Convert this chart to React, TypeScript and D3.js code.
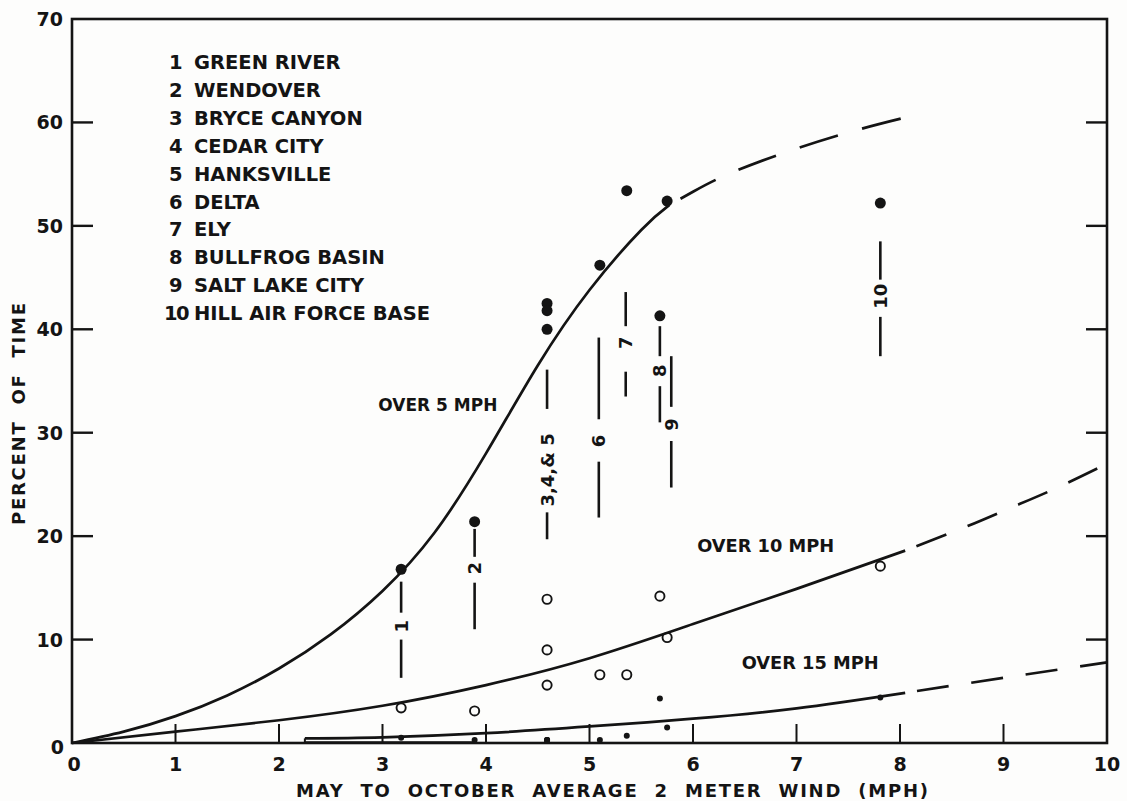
import React from "react";
import * as d3 from "d3";

// ---------- data ----------
const stationIds = ["1", "2", "3", "4", "5", "6", "7", "8", "9", "10"];
const stationNames = [
  "GREEN RIVER",
  "WENDOVER",
  "BRYCE CANYON",
  "CEDAR CITY",
  "HANKSVILLE",
  "DELTA",
  "ELY",
  "BULLFROG BASIN",
  "SALT LAKE CITY",
  "HILL AIR FORCE BASE",
];
// May-October average 2 m wind (mph) per station
const stationWind = [3.18, 3.89, 4.59, 4.59, 4.59, 5.1, 5.36, 5.68, 5.75, 7.81];
// percent of time over 5 / 10 / 15 mph
const over5Pct = [16.8, 21.4, 42.5, 41.8, 40.0, 46.2, 53.4, 41.3, 52.4, 52.2];
const over10Pct = [3.4, 3.1, 13.9, 9.0, 5.6, 6.6, 6.6, 14.2, 10.2, 17.1];
const over15Pct = [0.5, 0.3, 0.3, 0.3, 0.3, 0.3, 0.7, 4.3, 1.5, 4.4];

// fitted curves (solid part, then dashed extrapolation)
const curve5X = [0, 0.5, 1.0, 1.5, 2.0, 2.5, 3.0, 3.5, 4.0, 4.5, 5.0, 5.5, 5.77];
const curve5Y = [0, 1.1, 2.6, 4.6, 7.2, 10.5, 14.7, 20.3, 28.0, 36.5, 43.8, 49.6, 52.0];
const curve5DashX = [5.77, 6.0, 6.34, 6.92, 7.56, 8.06];
const curve5DashY = [52.0, 53.3, 55.0, 57.2, 59.2, 60.5];

const curve10X = [0, 1, 2, 3, 4, 5, 6, 7, 8.05];
const curve10Y = [0, 1.1, 2.2, 3.6, 5.6, 8.2, 11.5, 14.9, 18.6];
const curve10DashX = [8.05, 8.66, 9.06, 9.5, 10];
const curve10DashY = [18.6, 21.0, 22.7, 24.6, 27.0];

const curve15X = [2.25, 3.0, 4.0, 5.0, 6.0, 7.0, 8.05];
const curve15Y = [0.45, 0.55, 0.95, 1.6, 2.35, 3.35, 4.85];
const curve15DashX = [8.05, 9.0, 10];
const curve15DashY = [4.85, 6.3, 7.8];

// station leader annotations (label text, wind, upper line, label centre, lower line)
const leaderLabels = ["1", "2", "3,4,& 5", "6", "7", "8", "9", "10"];
const leaderWind = [3.18, 3.89, 4.59, 5.09, 5.35, 5.68, 5.79, 7.81];
const leaderUpperTop = [15.6, 20.7, 36.1, 39.2, 43.6, 40.3, 37.4, 48.5];
const leaderUpperBottom = [12.6, 18.0, 32.3, 31.3, 40.3, 37.4, 32.5, 44.8];
const leaderLabelAt = [11.3, 16.9, 26.4, 29.2, 38.7, 36.0, 30.8, 43.2];
const leaderLowerTop = [10.0, 15.5, 22.3, 27.2, 35.9, 34.5, 29.2, 41.2];
const leaderLowerBottom = [6.3, 11.0, 19.7, 21.8, 33.5, 31.0, 24.7, 37.4];

const curveLabels = ["OVER 5 MPH", "OVER 10 MPH", "OVER 15 MPH"];
const curveLabelX = [2.96, 6.04, 6.47];
const curveLabelY = [32.8, 19.1, 7.8];

const yTickValues = [0, 10, 20, 30, 40, 50, 60, 70];
const xTickValues = [0, 1, 2, 3, 4, 5, 6, 7, 8, 9, 10];

const xTitle = "MAY  TO  OCTOBER  AVERAGE  2  METER  WIND  (MPH)";
const yTitle = "PERCENT  OF  TIME";

// ---------- chart ----------
const W = 1127;
const H = 801;
const INK = "#141414";
const FONT = "'DejaVu Sans', 'Liberation Sans', sans-serif";

export default function App() {
  const x = d3.scaleLinear().domain([0, 10]).range([72, 1107]);
  const y = d3.scaleLinear().domain([0, 70]).range([743, 19]);

  const line = d3
    .line<[number, number]>()
    .x((d) => x(d[0]))
    .y((d) => y(d[1]))
    .curve(d3.curveNatural);

  const zip = (a: number[], b: number[]) => a.map((v, i) => [v, b[i]] as [number, number]);

  const solidPaths = [
    line(zip(curve5X, curve5Y)),
    line(zip(curve10X, curve10Y)),
    line(zip(curve15X, curve15Y)),
  ];
  const dashPaths = [
    line(zip(curve5DashX, curve5DashY)),
    line(zip(curve10DashX, curve10DashY)),
    line(zip(curve15DashX, curve15DashY)),
  ];

  const [x0, x1] = x.range();
  const [y0, y1] = y.range();

  return (
    <svg
      width={W}
      height={H}
      viewBox={`0 0 ${W} ${H}`}
      style={{ position: "fixed", left: 0, top: 0, background: "#fdfdfc" }}
    >
      <rect x={0} y={0} width={W} height={H} fill="#fdfdfc" />
      {/* frame */}
      <rect
        x={x0}
        y={y1}
        width={x1 - x0}
        height={y0 - y1}
        fill="none"
        stroke={INK}
        strokeWidth={2.6}
      />
      {/* left & right inner ticks */}
      {yTickValues
        .filter((v) => v > 0 && v < 70)
        .map((v) => (
          <g key={"yt" + v}>
            <line x1={x0} x2={x0 + 21} y1={y(v)} y2={y(v)} stroke={INK} strokeWidth={2.4} />
            <line x1={x1} x2={x1 - 21} y1={y(v)} y2={y(v)} stroke={INK} strokeWidth={2.4} />
          </g>
        ))}
      {/* bottom inner ticks */}
      {xTickValues
        .filter((v) => v > 0 && v < 10)
        .map((v) => (
          <line key={"xt" + v} x1={x(v)} x2={x(v)} y1={y0} y2={y0 - 19} stroke={INK} strokeWidth={2} />
        ))}
      {/* y tick labels */}
      {yTickValues.map((v) => (
        <text
          key={"yl" + v}
          x={v === 0 ? 64 : 63}
          y={y(v) + (v === 0 ? 11 : 7)}
          textAnchor="end"
          fontFamily={FONT}
          fontWeight="bold"
          fontSize={19}
          fill={INK}
        >
          {String(v)}
        </text>
      ))}
      {/* x tick labels */}
      {xTickValues.map((v) => (
        <text
          key={"xl" + v}
          x={x(v) + (v === 0 ? 2 : 0)}
          y={771}
          textAnchor="middle"
          fontFamily={FONT}
          fontWeight="bold"
          fontSize={19}
          fill={INK}
        >
          {String(v)}
        </text>
      ))}
      {/* axis titles */}
      <text
        x={296}
        y={797}
        textLength={632}
        lengthAdjust="spacing"
        fontFamily={FONT}
        fontWeight="bold"
        fontSize={18}
        fill={INK}
        style={{ whiteSpace: "pre" }}
      >
        {xTitle}
      </text>
      <text
        transform={`translate(25, 414) rotate(-90)`}
        textAnchor="middle"
        textLength={222}
        lengthAdjust="spacing"
        fontFamily={FONT}
        fontWeight="bold"
        fontSize={18}
        fill={INK}
        style={{ whiteSpace: "pre" }}
      >
        {yTitle}
      </text>

      {/* legend */}
      {stationIds.map((id, i) => (
        <g key={"lg" + id}>
          <text
            x={id.length > 1 ? 164 : 169}
            y={69 + i * 27.9}
            fontFamily={FONT}
            fontWeight="bold"
            fontSize={19.5}
            letterSpacing={id.length > 1 ? -1.5 : 0}
            fill={INK}
          >
            {id}
          </text>
          <text x={194} y={69 + i * 27.9} fontFamily={FONT} fontWeight="bold" fontSize={19.5} fill={INK}>
            {stationNames[i]}
          </text>
        </g>
      ))}

      {/* curves */}
      {solidPaths.map((d, i) => (
        <path key={"sp" + i} d={d ?? ""} fill="none" stroke={INK} strokeWidth={2.7} />
      ))}
      {dashPaths.map((d, i) => (
        <path
          key={"dp" + i}
          d={d ?? ""}
          fill="none"
          stroke={INK}
          strokeWidth={2.7}
          strokeDasharray={i === 0 ? "0 13 40 12" : "0 12 32 11"}
        />
      ))}
      {/* start stub of the over-15 line */}
      <line
        x1={x(curve15X[0])}
        x2={x(curve15X[0])}
        y1={y(0)}
        y2={y(curve15Y[0])}
        stroke={INK}
        strokeWidth={2}
      />
      <line x1={x(curve15X[0])} x2={x(3.89)} y1={y(0.1)} y2={y(0.1)} stroke={INK} strokeWidth={1.6} />

      {/* curve labels */}
      {curveLabels.map((t, i) => (
        <text
          key={"cl" + i}
          x={x(curveLabelX[i])}
          y={y(curveLabelY[i]) + 7}
          fontFamily={FONT}
          fontWeight="bold"
          fontSize={18}
          textLength={i === 0 ? 119 : 137}
          lengthAdjust="spacingAndGlyphs"
          fill={INK}
        >
          {t}
        </text>
      ))}

      {/* station leader lines and labels */}
      {leaderLabels.map((t, i) => {
        const cx = x(leaderWind[i]);
        const cy = y(leaderLabelAt[i]);
        return (
          <g key={"ld" + i}>
            <line
              x1={cx}
              x2={cx}
              y1={y(leaderUpperTop[i])}
              y2={y(leaderUpperBottom[i])}
              stroke={INK}
              strokeWidth={2.6}
            />
            <line
              x1={cx}
              x2={cx}
              y1={y(leaderLowerTop[i])}
              y2={y(leaderLowerBottom[i])}
              stroke={INK}
              strokeWidth={2.6}
            />
            <text
              transform={`translate(${cx + 6.5}, ${cy}) rotate(-90)`}
              textAnchor="middle"
              fontFamily={FONT}
              fontWeight="bold"
              fontSize={18}
              fill={INK}
            >
              {t}
            </text>
          </g>
        );
      })}

      {/* points */}
      {stationWind.map((w, i) => (
        <g key={"pt" + i}>
          <circle cx={x(w)} cy={y(over5Pct[i])} r={5.5} fill={INK} />
          <circle cx={x(w)} cy={y(over10Pct[i])} r={4.6} fill="none" stroke={INK} strokeWidth={1.9} />
          <circle cx={x(w)} cy={y(over15Pct[i])} r={3} fill={INK} />
        </g>
      ))}
    </svg>
  );
}
